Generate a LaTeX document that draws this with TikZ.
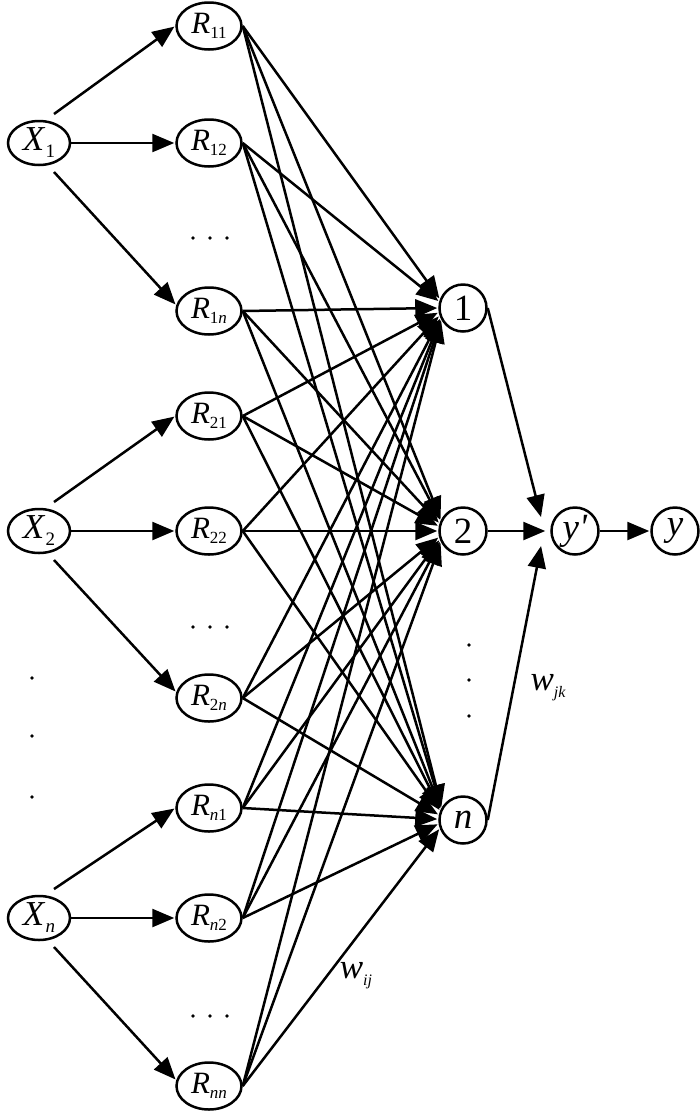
\documentclass[tikz,border=0pt]{standalone}
\usepackage{fontspec}
\setmainfont{Liberation Serif}
\usetikzlibrary{shapes.geometric,arrows.meta,calc}
\newcommand\xs[1]{\raisebox{-7pt}{\fontsize{19}{19}\selectfont #1}}
\newcommand\rs[1]{\raisebox{-5pt}{\fontsize{17}{17}\selectfont #1}}
\newcommand\ws[1]{\raisebox{-7pt}{\fontsize{16}{16}\selectfont\itshape #1}}
\begin{document}
\begin{tikzpicture}[x=1pt,y=-1pt,line width=2.5pt,
 xnode/.style={ellipse,draw,minimum width=62pt,minimum height=44pt,inner sep=0pt,font=\fontsize{35}{35}\selectfont},
 rnode/.style={ellipse,draw,minimum width=65pt,minimum height=47pt,inner sep=0pt,font=\fontsize{31}{31}\selectfont},
 cnode/.style={circle,draw,minimum size=47pt,inner sep=0pt,font=\fontsize{37}{37}\selectfont},
 lbl/.style={inner sep=0pt,font=\fontsize{35}{35}\selectfont},
 arr/.style={-{Triangle[length=22pt,width=18pt]},shorten >=1pt}]
\useasboundingbox (0,0) rectangle (700,1112);
% input nodes
\node[xnode] (X1) at (39,143) {\textit{X}\xs{1}};
\node[xnode] (X2) at (39,531) {\textit{X}\xs{2}};
\node[xnode] (Xn) at (39,918) {\textit{X}\xs{\textit{n}}};
% rule nodes
\node[rnode] (R11) at (209,26)   {\textit{R}\rs{11}};
\node[rnode] (R12) at (209,143)  {\textit{R}\rs{12}};
\node[rnode] (R1n) at (209,311)  {\textit{R}\rs{1\textit{n}}};
\node[rnode] (R21) at (209,416)  {\textit{R}\rs{21}};
\node[rnode] (R22) at (209,531)  {\textit{R}\rs{22}};
\node[rnode] (R2n) at (209,698)  {\textit{R}\rs{2\textit{n}}};
\node[rnode] (Rn1) at (209,808)  {\textit{R}\rs{\textit{n}1}};
\node[rnode] (Rn2) at (209,918)  {\textit{R}\rs{\textit{n}2}};
\node[rnode] (Rnn) at (209,1086) {\textit{R}\rs{\textit{nn}}};
% hidden nodes
\node[cnode] (h1) at (463,308) {1};
\node[cnode] (h2) at (463,531) {2};
\node[cnode] (hn) at (463,820) {\textit{n}};
% outputs
\node[cnode] (yp) at (575,531) {\textit{y\textquotesingle}};
\node[cnode] (y)  at (675,531) {\textit{y}};
% labels
\node[lbl] (wjk) at (548,688) {\textit{w}\ws{jk}};
\node[lbl] (wij) at (356,976) {\textit{w}\ws{ij}};
% dots
\foreach \yy in {238,627,1016} \foreach \xx in {193,210,227} \fill (\xx,\yy) circle (1.9);
\foreach \yy in {678,736,797} \fill (32,\yy) circle (1.9);
\foreach \yy in {645,680,716} \fill (469,\yy) circle (1.9);
% X -> R
\foreach \i/\a/\b/\c in {X1/R11/R12/R1n, X2/R21/R22/R2n, Xn/Rn1/Rn2/Rnn}{
  \coordinate (\i u) at ($(\i)+(15,-29)$);
  \coordinate (\i d) at ($(\i)+(15,29)$);
  \draw[arr] (\i u) -- (\a.west);
  \draw[arr] (\i.east) -- (\b.west);
  \draw[arr] (\i d) -- (\c.170);
}
% R -> hidden
\foreach \r/\ry in {R11/26,R12/143,R1n/311,R21/416,R22/531,R2n/698,Rn1/808,Rn2/918,Rnn/1086}{
  \foreach \h/\hy in {h1/308,h2/531,hn/820}{
    \pgfmathsetmacro\ang{180-0.4*atan2(\hy-\ry,221)}
    \draw[arr] (\r.east) -- (\h.\ang);
  }
}
% hidden -> y'
\draw[arr] (h1.east) -- ([shift={(-9,-13)}]yp.west);
\draw[arr] (h2.east) -- ([xshift=-4pt]yp.west);
\draw[arr] (hn.east) -- ([shift={(-9,14)}]yp.west);
\draw[arr] (yp) -- (y);
\end{tikzpicture}
\end{document}
